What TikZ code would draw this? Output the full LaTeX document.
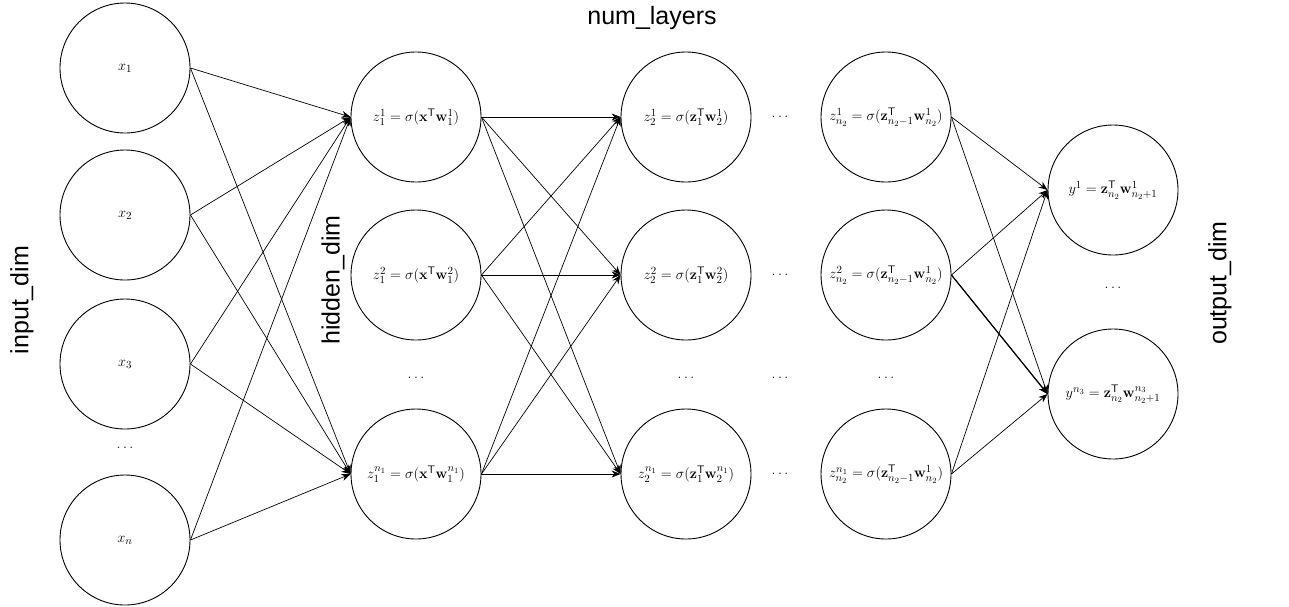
\documentclass[tikz,border=0pt]{standalone}
\usepackage[no-math]{fontspec}
\newfontfamily\labfont{Liberation Sans}
\usetikzlibrary{arrows.meta}
\begin{document}
\begin{tikzpicture}[x=1pt,y=-1pt,
  neuron/.style={circle,draw,line width=0.9pt,minimum size=130pt,inner sep=0pt,font=\fontsize{15.5}{18}\selectfont},
  conn/.style={-{Stealth[length=9pt,width=7pt]},line width=0.7pt},
  biglab/.style={font=\labfont\fontsize{25}{30}\selectfont},
  dotlab/.style={font=\fontsize{15.5}{18}\selectfont}]
\useasboundingbox (0,0) rectangle (1289,606);
% input layer
\node[neuron] (i1) at (125,68) {$x_1$};
\node[neuron] (i2) at (125,215) {$x_2$};
\node[neuron] (i3) at (125,364) {$x_3$};
\node[dotlab] (id) at (125,448) {$\dots$};
\node[neuron] (in) at (125,540) {$x_n$};
% hidden layer 1
\node[neuron] (a1) at (416,117) {$z_1^1=\sigma(\mathbf{x}^{\mathsf{T}}\mathbf{w}_1^1)$};
\node[neuron] (a2) at (416,275) {$z_1^2=\sigma(\mathbf{x}^{\mathsf{T}}\mathbf{w}_1^2)$};
\node[dotlab] (ad) at (416,378) {$\dots$};
\node[neuron] (an) at (416,474) {$z_1^{n_1}=\sigma(\mathbf{x}^{\mathsf{T}}\mathbf{w}_1^{n_1})$};
% hidden layer 2
\node[neuron] (b1) at (686,117) {$z_2^1=\sigma(\mathbf{z}_1^{\mathsf{T}}\mathbf{w}_2^1)$};
\node[neuron] (b2) at (686,275) {$z_2^2=\sigma(\mathbf{z}_1^{\mathsf{T}}\mathbf{w}_2^2)$};
\node[dotlab] (bd) at (686,378) {$\dots$};
\node[neuron] (bn) at (686,474) {$z_2^{n_1}=\sigma(\mathbf{z}_1^{\mathsf{T}}\mathbf{w}_2^{n_1})$};
% dots between layers
\node[dotlab] (m1) at (780,117) {$\dots$};
\node[dotlab] (m2) at (780,275) {$\dots$};
\node[dotlab] (md) at (780,378) {$\dots$};
\node[dotlab] (mn) at (780,474) {$\dots$};
% hidden layer n2
\node[neuron] (c1) at (886,117) {$z_{n_2}^1=\sigma(\mathbf{z}_{n_2-1}^{\mathsf{T}}\mathbf{w}_{n_2}^1)$};
\node[neuron] (c2) at (886,275) {$z_{n_2}^2=\sigma(\mathbf{z}_{n_2-1}^{\mathsf{T}}\mathbf{w}_{n_2}^1)$};
\node[dotlab] (cd) at (886,378) {$\dots$};
\node[neuron] (cn) at (886,474) {$z_{n_2}^{n_1}=\sigma(\mathbf{z}_{n_2-1}^{\mathsf{T}}\mathbf{w}_{n_2}^1)$};
% output layer
\node[neuron] (o1) at (1113,190) {$y^1=\mathbf{z}_{n_2}^{\mathsf{T}}\mathbf{w}_{n_2+1}^1$};
\node[dotlab] (od) at (1113,288) {$\dots$};
\node[neuron] (on) at (1113,394) {$y^{n_3}=\mathbf{z}_{n_2}^{\mathsf{T}}\mathbf{w}_{n_2+1}^{n_3}$};
% labels
\node[biglab] (tnum) at (652,18) {num\_layers};
\node[biglab,rotate=90] (tin) at (22,300) {input\_dim};
\node[biglab,rotate=90] (thid) at (333,280) {hidden\_dim};
\node[biglab,rotate=90] (tout) at (1220,283) {output\_dim};
% connections input -> hidden 1
\foreach \s in {i1,i2,i3,in}{
  \draw[conn] (\s.east) -- (a1.west);
  \draw[conn] (\s.east) -- (an.west);
}
% hidden 1 -> hidden 2
\foreach \s in {a1,a2,an}{
  \foreach \t in {b1,b2,bn}{
    \draw[conn] (\s.east) -- (\t.west);
  }
}
% last hidden -> output
\foreach \s in {c1,c2,cn}{
  \foreach \t in {o1,on}{
    \draw[conn] (\s.east) -- (\t.west);
  }
}
\draw[conn,line width=1.2pt] (c2.east) -- (on.west);
\end{tikzpicture}
\end{document}
